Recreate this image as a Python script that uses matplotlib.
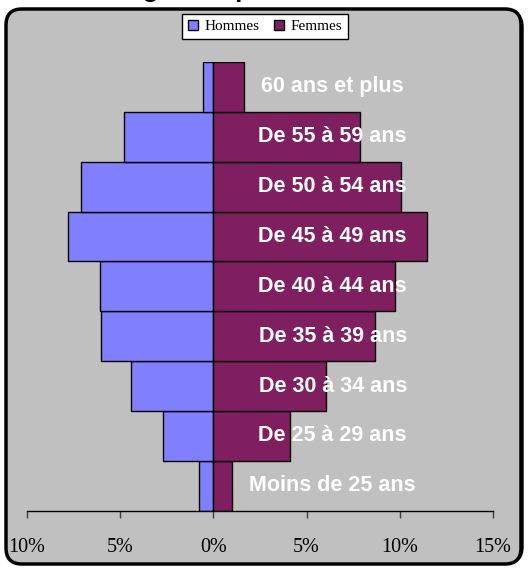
import matplotlib
matplotlib.use('Agg')
import matplotlib.pyplot as plt
from matplotlib.patches import FancyBboxPatch, Patch
import numpy as np

# Age groups, bottom to top
groups = ['Moins de 25 ans', 'De 25 à 29 ans', 'De 30 à 34 ans', 'De 35 à 39 ans',
          'De 40 à 44 ans', 'De 45 à 49 ans', 'De 50 à 54 ans', 'De 55 à 59 ans',
          '60 ans et plus']
hommes = [0.76, 2.69, 4.44, 6.02, 6.09, 7.82, 7.12, 4.82, 0.55]
femmes = [0.98, 4.12, 6.02, 8.65, 9.75, 11.44, 10.06, 7.88, 1.64]
ticks = [-10, -5, 0, 5, 10, 15]
tick_labels = ['10%', '5%', '0%', '5%', '10%', '15%']

COL_H = '#8080FF'
COL_F = '#7F1F5F'
BG = '#C0C0C0'

fig = plt.figure(figsize=(5.28, 5.68), dpi=100)
fig.patch.set_facecolor('white')

# rounded frame with a small shadow (pixel coords)
shadow = FancyBboxPatch((9, 5), 514, 552, boxstyle='round,pad=0,rounding_size=16',
                        transform=None, facecolor='black', edgecolor='black', zorder=0)
frame = FancyBboxPatch((6, 4), 515, 555, boxstyle='round,pad=0,rounding_size=16',
                       transform=None, facecolor=BG, edgecolor='black', linewidth=2.5, zorder=1)
fig.patches.extend([shadow, frame])

# title, mostly cut off by the top edge (only descenders show)
fig.text(0.413, 1 + 2.5 / 568, 'Les âges du personnel', ha='center', va='baseline',
         fontsize=19, fontweight='bold', family='Liberation Sans')

ax = fig.add_axes([27 / 528, 57.3 / 568, 466 / 528, 448.7 / 568])
ax.set_facecolor('none')
ax.set_zorder(2)

y = np.arange(len(groups))
ax.barh(y, -np.array(hommes), height=1.0, color=COL_H, edgecolor='black', linewidth=1)
ax.barh(y, femmes, height=1.0, color=COL_F, edgecolor='black', linewidth=1)

for yi, g in zip(y, groups):
    ax.text(6.4, yi, g, ha='center', va='center', color='white', fontsize=15.5,
            fontweight='bold', family='Liberation Sans')

ax.set_xlim(-10, 15)
ax.set_ylim(-0.5, len(groups) - 0.5)
ax.set_xticks(ticks)
ax.set_xticklabels(tick_labels, family='Liberation Serif', fontsize=14.5)
ax.tick_params(axis='x', direction='out', length=5, width=1, color='#404040', pad=15)
ax.set_yticks([])
for s in ['left', 'right', 'top']:
    ax.spines[s].set_visible(False)
ax.spines['bottom'].set_linewidth(1)

handles = [Patch(facecolor=COL_H, edgecolor='black', label='Hommes'),
           Patch(facecolor=COL_F, edgecolor='black', label='Femmes')]
leg = fig.legend(handles=handles, loc='center', bbox_to_anchor=(265 / 528, 1 - 26.5 / 568),
                 ncol=2, frameon=True, fancybox=False, framealpha=1,
                 prop={'family': 'Liberation Serif', 'size': 11},
                 handlelength=0.65, handleheight=0.65, handletextpad=0.4,
                 columnspacing=1.0, borderpad=0.4)
leg.get_frame().set_edgecolor('black')
leg.get_frame().set_linewidth(1)
leg.set_zorder(5)

plt.savefig('out.png', dpi=100)
plt.close()
